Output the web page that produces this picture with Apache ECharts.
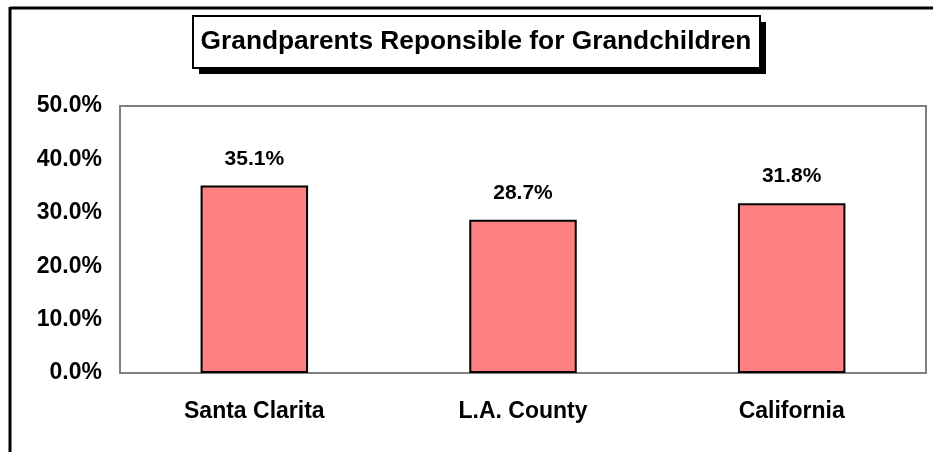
<!DOCTYPE html>
<html><head><meta charset="utf-8">
<script src="https://cdn.jsdelivr.net/npm/echarts@6/dist/echarts.min.js"></script>
<style>html,body{margin:0;padding:0;background:#fff}#c{width:933px;height:452px}</style>
</head><body><div id="c"></div>
<script>
const titleText = 'Grandparents Reponsible for Grandchildren';
const categories = ['Santa Clarita', 'L.A. County', 'California'];
const values = [35.1, 28.7, 31.8];
const yTicks = [0, 10, 20, 30, 40, 50];

const chart = echarts.init(document.getElementById('c'));
const font = 'Arial, "Liberation Sans", sans-serif';
chart.setOption({
  animation: false,
  backgroundColor: '#fff',
  graphic: [
    { type: 'line', shape: { x1: 10, y1: 8, x2: 933, y2: 8 }, style: { stroke: '#000', lineWidth: 3 } },
    { type: 'line', shape: { x1: 10, y1: 7, x2: 10, y2: 452 }, style: { stroke: '#000', lineWidth: 3 } },
    { type: 'rect', shape: { x: 199, y: 22, width: 567, height: 52 }, style: { fill: '#000' } },
    { type: 'rect', shape: { x: 193, y: 16, width: 567, height: 52 }, style: { fill: '#fff', stroke: '#000', lineWidth: 2 } },
    { type: 'text', x: 476, y: 42, style: { text: titleText, font: 'bold 26.3px ' + font, fill: '#000', align: 'center', verticalAlign: 'middle' } }
  ],
  grid: { left: 120, right: 7, top: 106, bottom: 79, show: true, borderColor: '#808080', borderWidth: 2, backgroundColor: '#fff' },
  xAxis: {
    type: 'category', data: categories,
    axisLine: { show: false }, axisTick: { show: false },
    axisLabel: { margin: 27, fontFamily: font, fontWeight: 'bold', fontSize: 23, color: '#000' }
  },
  yAxis: {
    type: 'value', min: yTicks[0], max: yTicks[yTicks.length - 1], interval: 10,
    axisLine: { show: false }, axisTick: { show: false }, splitLine: { show: false },
    axisLabel: { margin: 18, fontFamily: font, fontWeight: 'bold', fontSize: 23, color: '#000',
      formatter: v => v.toFixed(1) + '%' }
  },
  series: [{
    type: 'bar', data: values, barWidth: '40%',
    itemStyle: { color: '#FF8080', borderColor: '#000', borderWidth: 2 },
    label: { show: true, position: 'top', distance: 16, fontFamily: font, fontWeight: 'bold', fontSize: 21, color: '#000',
      formatter: p => p.value.toFixed(1) + '%' }
  }]
});
</script></body></html>
